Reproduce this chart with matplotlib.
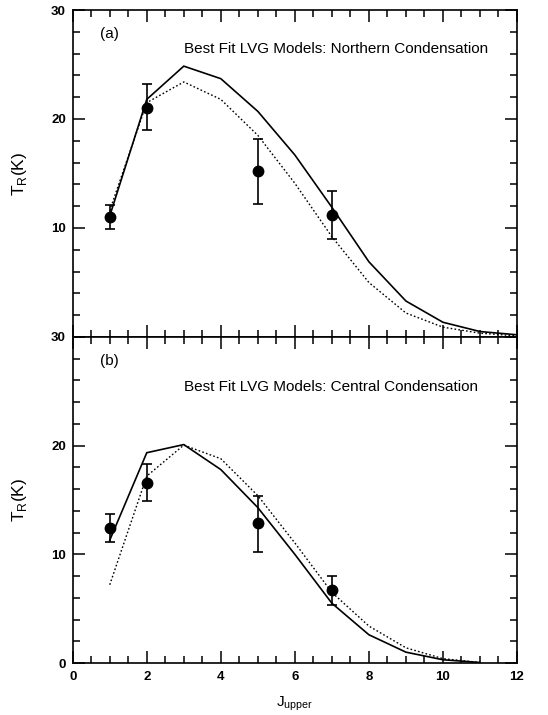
import numpy as np
import matplotlib
matplotlib.use("Agg")
import matplotlib.pyplot as plt
from matplotlib.ticker import MultipleLocator, FixedLocator

plt.rcParams['font.family'] = ['Liberation Sans', 'DejaVu Sans']

# observed points
j_obs = [1, 2, 5, 7]
obs_a = [11.0, 21.0, 15.2, 11.2]
err_a_lo = [1.1, 2.0, 3.0, 2.2]
err_a_hi = [1.1, 2.2, 3.0, 2.2]
obs_b = [12.4, 16.55, 12.85, 6.7]
err_b_lo = [1.3, 1.65, 2.65, 1.4]
err_b_hi = [1.35, 1.75, 2.55, 1.35]

# LVG model curves
j_mod_a = [1, 2, 3, 4, 5, 6, 7, 8, 9, 10, 11, 12]
solid_a = [11.1, 21.8, 24.85, 23.7, 20.7, 16.7, 11.9, 6.9, 3.3, 1.35, 0.5, 0.2]
dotted_a = [11.6, 21.5, 23.4, 21.8, 18.5, 14.1, 9.2, 5.0, 2.2, 0.9, 0.35, 0.1]

j_mod_b = [1, 2, 3, 4, 5, 6, 7, 8, 9, 10, 11]
solid_b = [11.3, 19.35, 20.1, 17.8, 14.3, 10.0, 5.5, 2.6, 1.0, 0.3, 0.05]
dotted_b = [7.2, 17.2, 20.05, 18.8, 15.4, 11.05, 6.5, 3.4, 1.4, 0.4, 0.05]

titles = ["Best Fit LVG Models: Northern Condensation",
          "Best Fit LVG Models: Central Condensation"]
panel_tags = ["(a)", "(b)"]

fig = plt.figure(figsize=(5.48, 7.15), dpi=100)
left, width = 0.1327, 0.8107
ax_a = fig.add_axes([left, 0.5287, width, 0.4573])
ax_b = fig.add_axes([left, 0.0727, width, 0.456])

panels = [
    (ax_a, obs_a, err_a_lo, err_a_hi, j_mod_a, solid_a, dotted_a),
    (ax_b, obs_b, err_b_lo, err_b_hi, j_mod_b, solid_b, dotted_b),
]

for i, (ax, obs, elo, ehi, jm, sol, dot) in enumerate(panels):
    ax.plot(jm, sol, color='black', lw=1.2, solid_joinstyle='miter')
    ax.plot(jm, dot, color='black', lw=1.0, linestyle=(0, (1.2, 1.6)))
    ax.errorbar(j_obs, obs, yerr=[elo, ehi], fmt='o', color='black',
                ms=7.5, elinewidth=1.2, capsize=3.5, capthick=1.2)
    ax.set_xlim(0, 12)
    ax.set_ylim(0, 30)
    ax.xaxis.set_major_locator(MultipleLocator(2))
    ax.xaxis.set_minor_locator(MultipleLocator(0.5))
    ax.yaxis.set_major_locator(MultipleLocator(10))
    ax.yaxis.set_minor_locator(MultipleLocator(2))
    ax.tick_params(which='both', direction='in', top=True, right=True, width=1.1)
    ax.tick_params(which='major', length=8.5)
    ax.tick_params(which='minor', length=4.8)
    ax.tick_params(labelsize=9.5, pad=5)
    for lab in ax.get_yticklabels() + ax.get_xticklabels():
        lab.set_fontweight('bold')
    for sp in ax.spines.values():
        sp.set_linewidth(1.2)
    ax.text(1.0, 27.8, panel_tags[i], fontsize=11, ha='center', va='center')
    ax.text(3.0, 26.4 if i == 0 else 25.4, titles[i], fontsize=11,
            ha='left', va='center')
    ax.set_ylabel(r"T$_\mathregular{R}$(K)", fontsize=12.5, labelpad=16)

ax_a.set_xticklabels([])
ax_a.yaxis.set_major_locator(FixedLocator([10, 20, 30]))
for lab in ax_a.get_yticklabels():
    lab.set_fontweight('bold')
ax_b.tick_params(axis='x', pad=6)
ax_b.set_xlabel(r"J$_\mathregular{upper}$", fontsize=11, labelpad=8)

fig.savefig("out.png", dpi=100)
